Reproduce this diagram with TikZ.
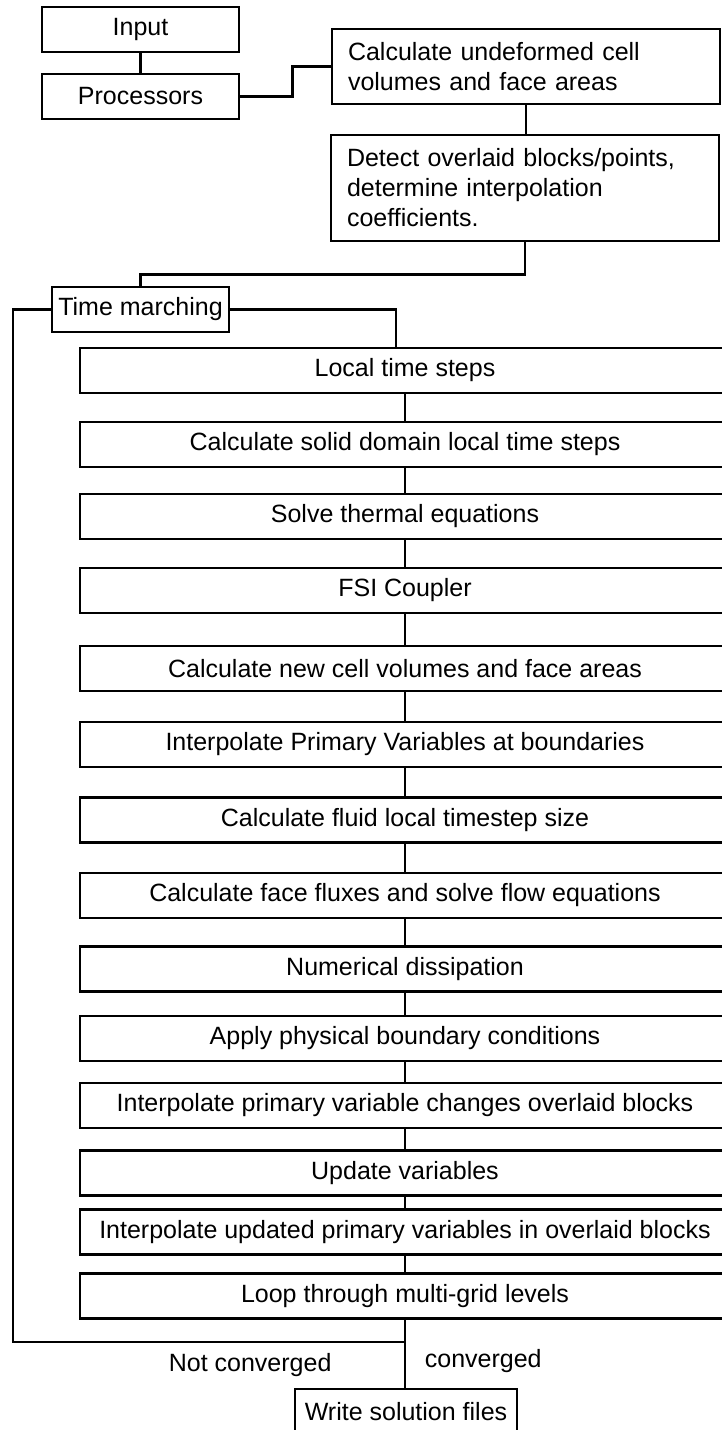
\documentclass[tikz,border=0pt]{standalone}
\usepackage{fontspec}
\setmainfont{Liberation Sans}
\usetikzlibrary{positioning,calc}

\begin{document}
\begin{tikzpicture}[
    x=0.5pt, y=-0.5pt,
    every node/.style={font=\fontsize{12.5}{15}\selectfont},
    procbox/.style={rectangle, draw=black, line width=1.3pt,
                    minimum width=98.5pt, minimum height=22.5pt,
                    inner sep=0pt, align=center},
    notebox/.style={rectangle, draw=black, line width=1.3pt,
                    text width=178pt, inner xsep=8pt, inner ysep=0pt,
                    align=left},
    stepbox/.style={rectangle, draw=black, line width=1.3pt,
                    minimum width=325pt, minimum height=22.5pt,
                    inner sep=0pt, align=center},
    link/.style={draw=black, line width=1.2pt}
]
\useasboundingbox (0,0) rectangle (722,1430);
\clip (0,0) rectangle (722,1430);

\node[procbox] (input) at (140.5,29.5) {Input};
\node[procbox] (proc) at (140.5,96.5) {Processors};

\node[notebox, minimum height=37.5pt] (undef) at (526,66.5) {
    Calculate undeformed cell\\
    volumes and face areas
};
\node[notebox, minimum height=53pt] (overlay) at (525,188) {
    Detect overlaid blocks/points,\\
    determine interpolation\\
    coefficients.
};

\node[procbox, minimum width=88.5pt] (march) at (140.5,309.5) {Time marching};

\node[stepbox] (lts) at (405,370.5) {Local time steps};
\node[stepbox] (solidts) at (405,444.5) {Calculate solid domain local time steps};
\node[stepbox] (thermal) at (405,516.5) {Solve thermal equations};
\node[stepbox] (fsi) at (405,590.5) {FSI Coupler};
\node[stepbox] (newvol) at (405,668.5) {Calculate new cell volumes and face areas};
\node[stepbox] (interpbnd) at (405,744.5) {Interpolate Primary Variables at boundaries};
\node[stepbox] (fluidts) at (405,820) {Calculate fluid local timestep size};
\node[stepbox] (fluxes) at (405,895.5) {Calculate face fluxes and solve flow equations};
\node[stepbox] (dissip) at (405,969) {Numerical dissipation};
\node[stepbox] (bcs) at (405,1038.5) {Apply physical boundary conditions};
\node[stepbox] (interpchg) at (405,1105.5) {Interpolate primary variable changes overlaid blocks};
\node[stepbox] (update) at (405,1173) {Update variables};
\node[stepbox] (interpupd) at (405,1232) {Interpolate updated primary variables in overlaid blocks};
\node[stepbox] (multigrid) at (405,1296) {Loop through multi-grid levels};

\node[procbox, minimum width=111pt] (write) at (406,1411.5) {Write solution files};

% set-up chain
\draw[link] (input) -- (proc);
\draw[link] (proc.east) -- ++(52,0) |- (undef.west);
\draw[link] (undef.south) -- (undef.south |- overlay.north);
\draw[link] (overlay.south) -- ++(0,32) -| (march.north);
\draw[link] (march.east) -| ([xshift=-4.5pt]lts.north);

% solver steps
\draw[link] (lts) -- (solidts);
\draw[link] (solidts) -- (thermal);
\draw[link] (thermal) -- (fsi);
\draw[link] (fsi) -- (newvol);
\draw[link] (newvol) -- (interpbnd);
\draw[link] (interpbnd) -- (fluidts);
\draw[link] (fluidts) -- (fluxes);
\draw[link] (fluxes) -- (dissip);
\draw[link] (dissip) -- (bcs);
\draw[link] (bcs) -- (interpchg);
\draw[link] (interpchg) -- (update);
\draw[link] (update) -- (interpupd);
\draw[link] (interpupd) -- (multigrid);

% convergence loop
\coordinate (loopback) at (13,1342);
\draw[link] (march.west) -| (loopback) -- (loopback -| multigrid.south)
    node[below=2pt, pos=0.605] {Not converged};
\draw[link] (multigrid.south) -- (multigrid.south |- write.north)
    node[right=6pt, pos=0.6] {converged};

\end{tikzpicture}
\end{document}
